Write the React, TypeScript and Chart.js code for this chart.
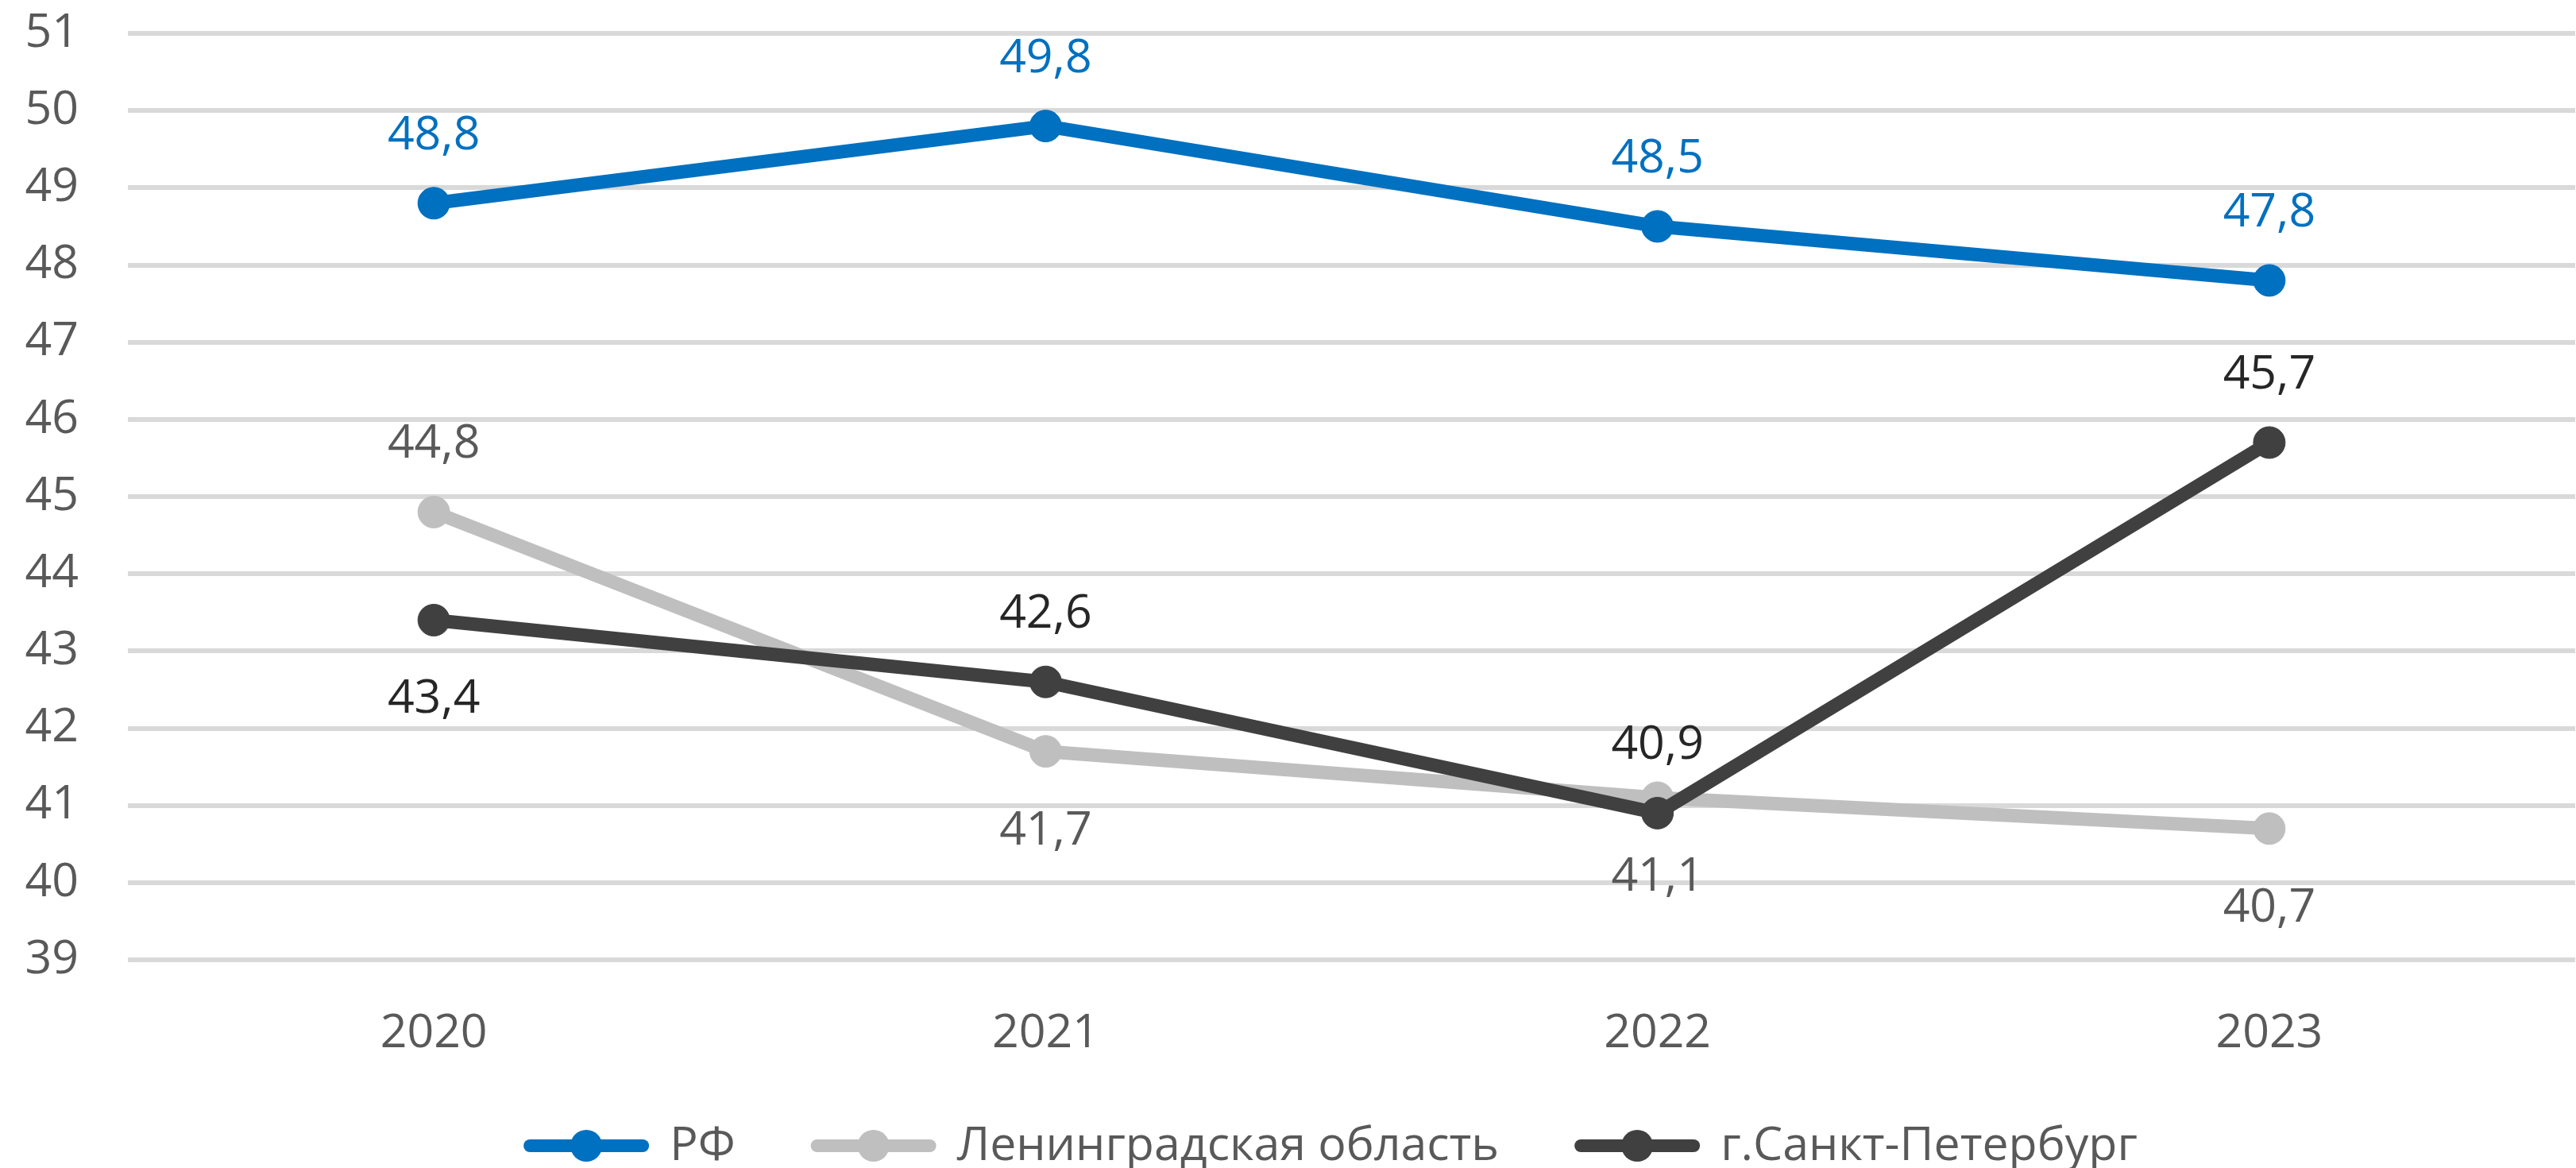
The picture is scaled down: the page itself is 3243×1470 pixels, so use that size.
import React, { useEffect, useRef } from "react";
import { Chart, registerables } from "chart.js";

Chart.register(...registerables);

// ---- data ----
const years = ["2020", "2021", "2022", "2023"];
const rfValues = [48.8, 49.8, 48.5, 47.8];
const lenOblValues = [44.8, 41.7, 41.1, 40.7];
const spbValues = [43.4, 42.6, 40.9, 45.7];
const seriesNames = ["РФ", "Ленинградская область", "г.Санкт-Петербург"];
const yMin = 39;
const yMax = 51;
const yStep = 1;

// ---- styles ----
const FONT = "'Open Sans', 'Noto Sans', sans-serif";
const FONT_SIZE = 59;
const lineColors = ["#0070C0", "#BFBFBF", "#404040"];
const labelColors = ["#0070C0", "#595959", "#262626"];
const labelPlacement = [
  ["above", "above", "above", "above"],
  ["above", "below", "below", "below"],
  ["below", "above", "above", "above"],
];

const CANVAS_W = 3263;
const CANVAS_H = 1470;

const valueLabelPlugin = {
  id: "valueLabels",
  afterDatasetsDraw(chart: any) {
    const ctx = chart.ctx;
    ctx.save();
    ctx.font = `${FONT_SIZE}px ${FONT}`;
    ctx.textAlign = "center";
    ctx.textBaseline = "alphabetic";
    chart.data.datasets.forEach((ds: any, di: number) => {
      const meta = chart.getDatasetMeta(di);
      meta.data.forEach((pt: any, i: number) => {
        const v = ds.data[i] as number;
        const txt = v.toFixed(1).replace(".", ",");
        const y = labelPlacement[di][i] === "above" ? pt.y - 68 : pt.y + 117;
        ctx.fillStyle = labelColors[di];
        ctx.fillText(txt, pt.x, y);
      });
    });
    ctx.restore();
  },
};

const legendPlugin = {
  id: "customLegend",
  afterDraw(chart: any) {
    const ctx = chart.ctx;
    ctx.save();
    ctx.font = `${FONT_SIZE}px ${FONT}`;
    const lineW = 158;
    const gapText = 26;
    const gapItem = 95;
    const widths = seriesNames.map((n) => ctx.measureText(n).width);
    let total = 0;
    widths.forEach((w, i) => {
      total += lineW + gapText + w + (i > 0 ? gapItem : 0);
    });
    let x = 1675 - total / 2;
    const yc = 1442;
    seriesNames.forEach((name, i) => {
      ctx.strokeStyle = lineColors[i];
      ctx.lineWidth = 16;
      ctx.lineCap = "round";
      ctx.beginPath();
      ctx.moveTo(x + 8, yc);
      ctx.lineTo(x + lineW - 8, yc);
      ctx.stroke();
      ctx.fillStyle = lineColors[i];
      ctx.beginPath();
      ctx.arc(x + lineW / 2, yc, 20, 0, Math.PI * 2);
      ctx.fill();
      ctx.fillStyle = "#595959";
      ctx.textAlign = "left";
      ctx.textBaseline = "alphabetic";
      ctx.fillText(name, x + lineW + gapText, 1460);
      x += lineW + gapText + widths[i] + gapItem;
    });
    ctx.restore();
  },
};

function makeDataset(label: string, data: number[], idx: number, order: number) {
  return {
    label,
    data,
    borderColor: lineColors[idx],
    backgroundColor: lineColors[idx],
    borderWidth: 17,
    pointRadius: 20,
    pointBorderWidth: 1,
    pointBackgroundColor: lineColors[idx],
    pointBorderColor: lineColors[idx],
    borderJoinStyle: "round" as const,
    borderCapStyle: "round" as const,
    tension: 0,
    order,
  };
}

export default function App() {
  const canvasRef = useRef<HTMLCanvasElement | null>(null);

  useEffect(() => {
    document.body.style.margin = "0";
    const canvas = canvasRef.current;
    if (!canvas) return;
    const chart = new Chart(canvas, {
      type: "line",
      data: {
        labels: years,
        datasets: [
          makeDataset(seriesNames[0], rfValues, 0, 0),
          makeDataset(seriesNames[1], lenOblValues, 1, 2),
          makeDataset(seriesNames[2], spbValues, 2, 1),
        ],
      },
      options: {
        responsive: false,
        animation: false,
        devicePixelRatio: 1,
        layout: { padding: { left: 0, right: 0, top: 42, bottom: 130 } },
        plugins: {
          legend: { display: false },
          tooltip: { enabled: false },
        },
        scales: {
          x: {
            offset: true,
            grid: { display: false },
            border: { display: false },
            ticks: {
              font: { family: FONT, size: FONT_SIZE },
              color: "#595959",
              padding: 50,
            },
            afterFit: (s: any) => {
              s.height = 132;
            },
          },
          y: {
            min: yMin,
            max: yMax,
            ticks: {
              stepSize: yStep,
              font: { family: FONT, size: FONT_SIZE },
              color: "#595959",
              padding: 0,
            },
            grid: {
              color: "#D9D9D9",
              lineWidth: 6,
              drawTicks: true,
              tickLength: 62,
              tickColor: "rgba(0,0,0,0)",
            },
            border: { display: false },
            afterFit: (s: any) => {
              s.width = 161;
            },
          },
        },
      },
      plugins: [valueLabelPlugin, legendPlugin],
    });
    return () => chart.destroy();
  }, []);

  return (
    <div
      style={{
        position: "fixed",
        left: 0,
        top: 0,
        width: 3243,
        height: 1470,
        overflow: "hidden",
        background: "#ffffff",
      }}
    >
      <canvas ref={canvasRef} width={CANVAS_W} height={CANVAS_H} style={{ display: "block" }} />
    </div>
  );
}
